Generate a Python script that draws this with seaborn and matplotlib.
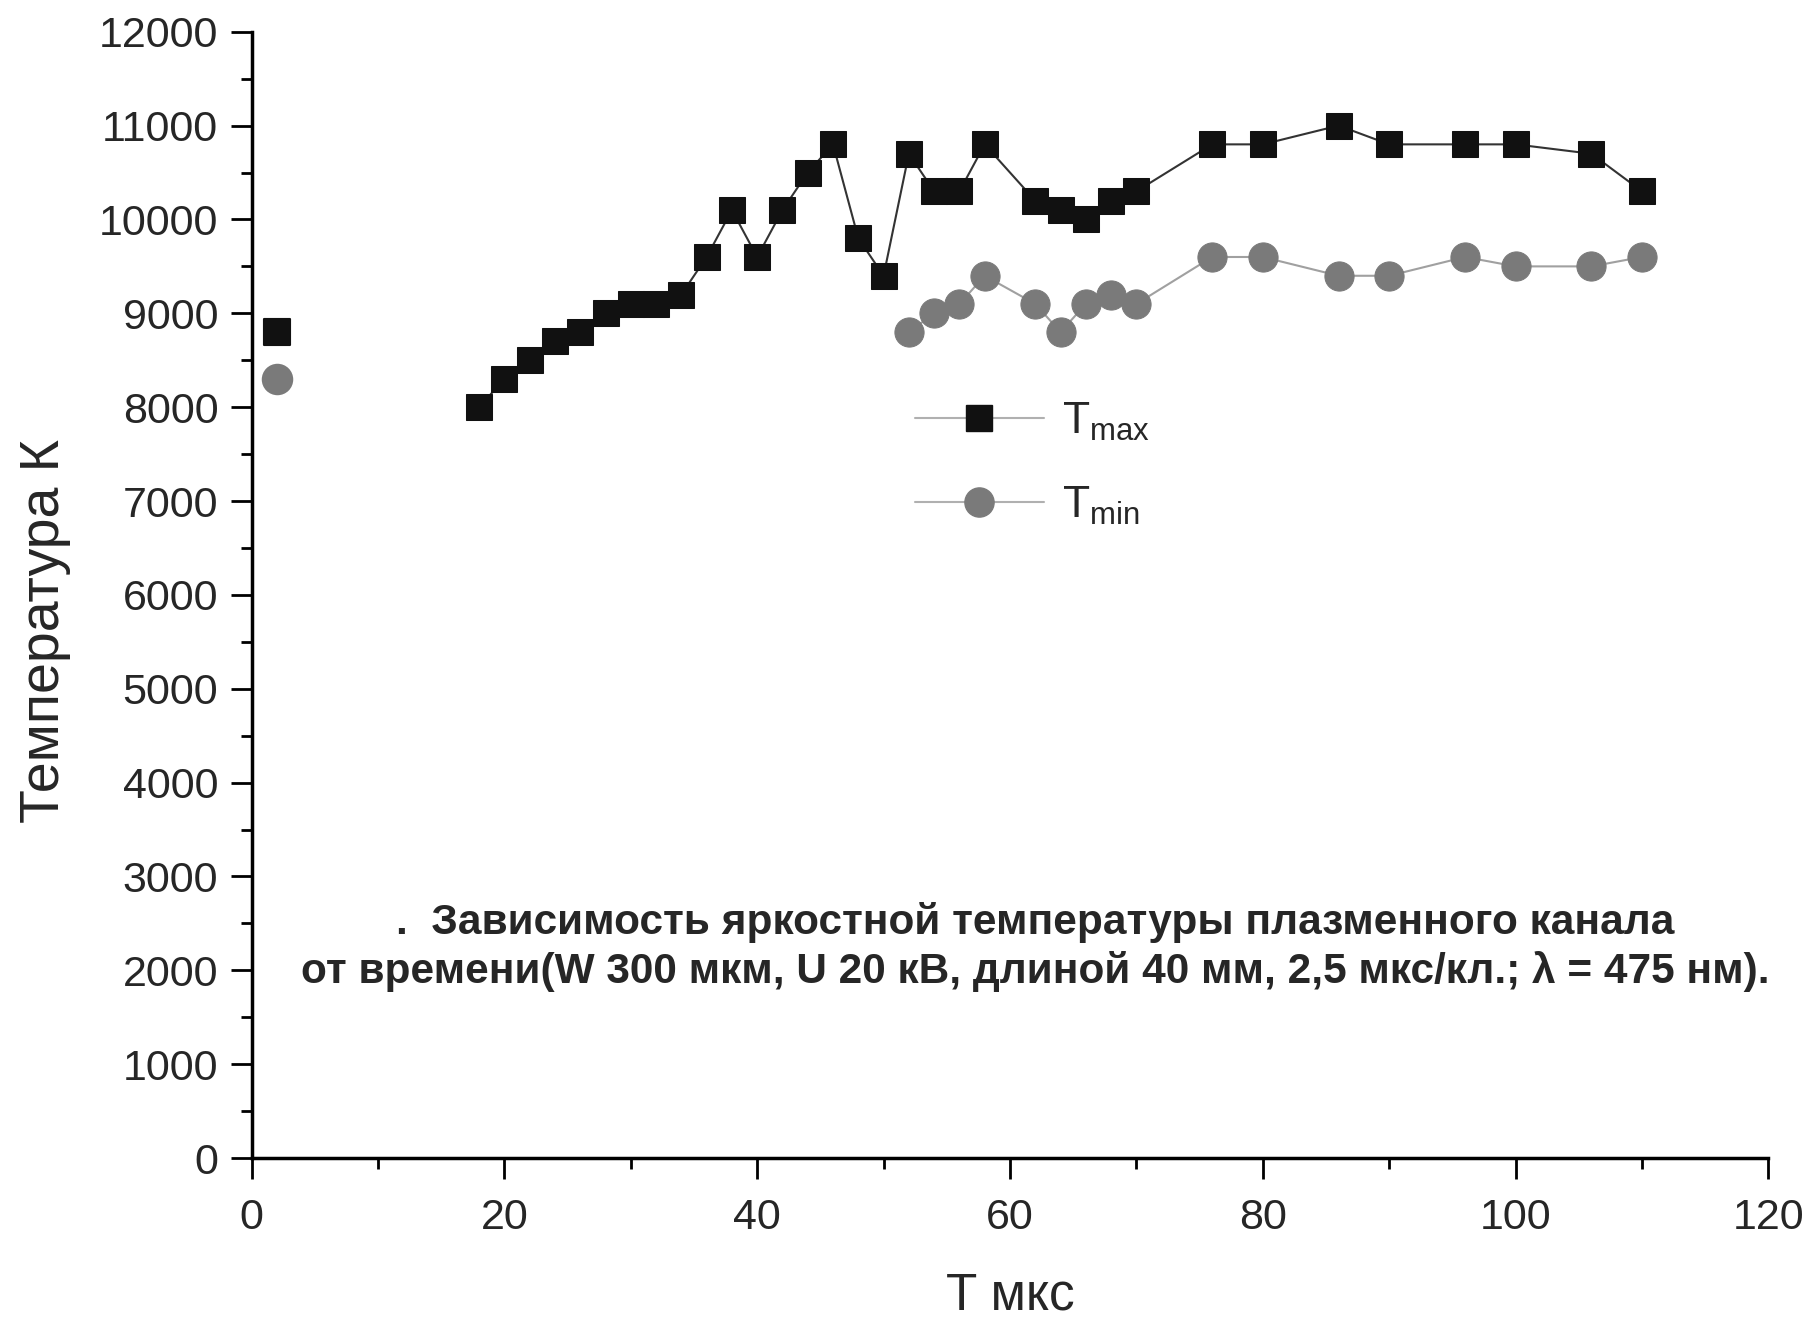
import seaborn as sns
import matplotlib.pyplot as plt
import pandas as pd
from matplotlib.lines import Line2D
from matplotlib.ticker import MultipleLocator

# Tmax: isolated first point, then the connected series
tmax_first_t = [2]
tmax_first_v = [8800]
tmax_t = [18, 20, 22, 24, 26, 28, 30, 32, 34, 36, 38, 40, 42, 44, 46, 48, 50,
          52, 54, 56, 58, 62, 64, 66, 68, 70, 76, 80, 86, 90, 96, 100, 106, 110]
tmax_v = [8000, 8300, 8500, 8700, 8800, 9000, 9100, 9100, 9200, 9600, 10100,
          9600, 10100, 10500, 10800, 9800, 9400, 10700, 10300, 10300, 10800,
          10200, 10100, 10000, 10200, 10300, 10800, 10800, 11000, 10800, 10800,
          10800, 10700, 10300]

# Tmin
tmin_first_t = [2]
tmin_first_v = [8300]
tmin_t = [52, 54, 56, 58, 62, 64, 66, 68, 70, 76, 80, 86, 90, 96, 100, 106, 110]
tmin_v = [8800, 9000, 9100, 9400, 9100, 8800, 9100, 9200, 9100, 9600, 9600,
          9400, 9400, 9600, 9500, 9500, 9600]

caption = (".  Зависимость яркостной температуры плазменного канала\n"
           "от времени(W 300 мкм, U 20 кВ, длиной 40 мм, 2,5 мкс/кл.; λ = 475 нм).")

sns.set_style('ticks')
plt.rcParams['font.family'] = ['Liberation Sans', 'DejaVu Sans']
plt.rcParams['mathtext.fontset'] = 'custom'
plt.rcParams['mathtext.rm'] = 'Liberation Sans'
plt.rcParams['mathtext.it'] = 'Liberation Sans'

fig = plt.figure(figsize=(18.1, 13.22), dpi=100)
ax = fig.add_axes([0.139, 0.124, 0.838, 0.852])

max_color = '#111111'
min_color = '#7a7a7a'

df_max = pd.DataFrame({'t': tmax_t, 'v': tmax_v})
df_min = pd.DataFrame({'t': tmin_t, 'v': tmin_v})

sns.lineplot(data=df_max, x='t', y='v', ax=ax, color='#333333', linewidth=1.5,
             marker='s', markersize=19, markerfacecolor=max_color,
             markeredgecolor=max_color, zorder=3)
sns.lineplot(data=df_min, x='t', y='v', ax=ax, color='#a0a0a0', linewidth=1.5,
             marker='o', markersize=21, markerfacecolor=min_color,
             markeredgecolor=min_color, zorder=2)
sns.scatterplot(x=tmax_first_t, y=tmax_first_v, ax=ax, marker='s', s=360,
                color=max_color, edgecolor=max_color, zorder=3)
sns.scatterplot(x=tmin_first_t, y=tmin_first_v, ax=ax, marker='o', s=440,
                color=min_color, edgecolor=min_color, zorder=2)

ax.set_xlim(0, 120)
ax.set_ylim(0, 12000)
ax.xaxis.set_major_locator(MultipleLocator(20))
ax.xaxis.set_minor_locator(MultipleLocator(10))
ax.yaxis.set_major_locator(MultipleLocator(1000))
ax.yaxis.set_minor_locator(MultipleLocator(500))
ax.tick_params(which='major', direction='out', length=15, width=2,
               labelsize=31, pad=9, color='black')
ax.tick_params(axis='x', which='major', pad=14)
ax.tick_params(which='minor', direction='out', length=8, width=2, color='black')
sns.despine(ax=ax)
for side in ['left', 'bottom']:
    ax.spines[side].set_linewidth(2.5)
    ax.spines[side].set_color('black')

ax.set_xlabel('T мкс', fontsize=37, labelpad=24)
ax.set_ylabel('Температура К', fontsize=40)
ax.yaxis.set_label_coords(-0.119, 0.468)

ax.text(62.0, 2250, caption, ha='center', va='center', fontsize=30.5,
        fontweight='bold', linespacing=1.25)

handles = [
    Line2D([], [], color='#b0b0b0', linewidth=1.5, marker='s', markersize=19,
           markerfacecolor=max_color, markeredgecolor=max_color),
    Line2D([], [], color='#b0b0b0', linewidth=1.5, marker='o', markersize=21,
           markerfacecolor=min_color, markeredgecolor=min_color),
]
ax.legend(handles, [r'$\mathregular{T_{max}}$', r'$\mathregular{T_{min}}$'],
          loc='upper left', bbox_to_anchor=(0.411, 0.708), frameon=False,
          fontsize=32, handlelength=2.9, labelspacing=0.95, handletextpad=0.4)

fig.savefig('out.png', dpi=100)
